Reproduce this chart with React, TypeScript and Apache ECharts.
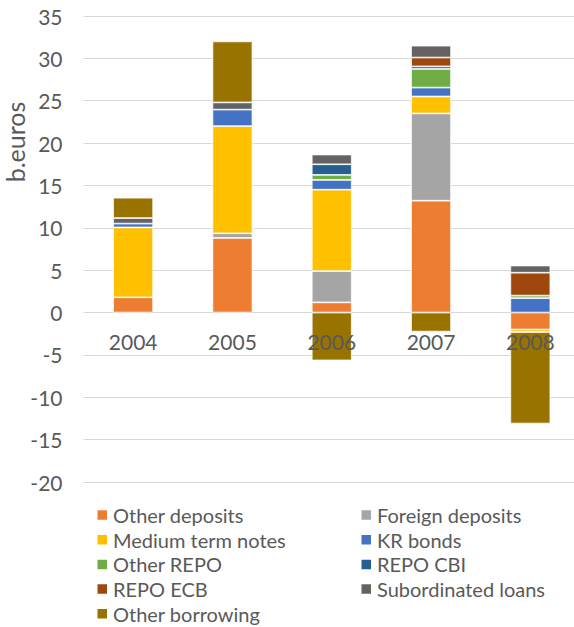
import React, { useEffect, useRef } from "react";
import * as echarts from "echarts";

const years = ["2004", "2005", "2006", "2007", "2008"];
const otherDeposits = [1.8, 8.8, 1.2, 13.2, -2.0];
const foreignDeposits = [null, 0.55, 3.7, 10.3, null];
const mediumTermNotes = [8.25, 12.65, 9.6, 2.0, -0.3];
const krBonds = [0.45, 1.95, 1.15, 1.05, 1.7];
const otherRepo = [null, null, 0.6, 2.2, 0.3];
const repoCBI = [null, null, 1.25, 0.3, null];
const repoECB = [null, null, null, 1.05, 2.7];
const subordinatedLoans = [0.65, 0.85, 1.15, 1.4, 0.85];
const otherBorrowing = [2.4, 7.2, -5.65, -2.25, -10.8];

const seriesDefs = [
  { name: "Other deposits", data: otherDeposits, color: "#ED7D31" },
  { name: "Foreign deposits", data: foreignDeposits, color: "#A5A5A5" },
  { name: "Medium term notes", data: mediumTermNotes, color: "#FFC000" },
  { name: "KR bonds", data: krBonds, color: "#4472C4" },
  { name: "Other REPO", data: otherRepo, color: "#70AD47" },
  { name: "REPO CBI", data: repoCBI, color: "#255E91" },
  { name: "REPO ECB", data: repoECB, color: "#9E480E" },
  { name: "Subordinated loans", data: subordinatedLoans, color: "#636363" },
  { name: "Other borrowing", data: otherBorrowing, color: "#997300" },
];

const leftLegend = ["Other deposits", "Medium term notes", "Other REPO", "REPO ECB", "Other borrowing"];
const rightLegend = ["Foreign deposits", "KR bonds", "REPO CBI", "Subordinated loans"];

const FONT = "Lato, 'Open Sans', sans-serif";
const TEXT = "#595959";

export default function App() {
  const ref = useRef<HTMLDivElement>(null);
  useEffect(() => {
    if (!ref.current) return;
    const chart = echarts.init(ref.current, undefined, { renderer: "svg" });
    const legendCommon = {
      orient: "vertical",
      itemWidth: 11.5,
      itemHeight: 11.5,
      itemGap: 4.7,
      icon: "rect",
      top: 505,
      padding: 0,
      height: 300,
      selectedMode: false,
      textStyle: { color: TEXT, fontSize: 20, fontFamily: FONT, lineHeight: 18 },
    };
    chart.setOption({
      animation: false,
      textStyle: { fontFamily: FONT },
      grid: { left: 83.5, right: 0, top: 16, bottom: 145 },
      legend: [
        { ...legendCommon, left: 95.5, data: leftLegend },
        { ...legendCommon, left: 359.5, data: rightLegend },
      ],
      graphic: [
        {
          type: "text",
          x: 14.5,
          y: 142,
          rotation: Math.PI / 2,
          style: {
            text: "b.euros",
            fill: TEXT,
            fontSize: 25,
            fontFamily: FONT,
            align: "center",
            verticalAlign: "middle",
          },
        },
      ],
      xAxis: {
        type: "category",
        data: years,
        z: 10,
        offset: -169.5,
        axisLine: { show: false },
        axisTick: { show: false },
        axisLabel: { color: TEXT, fontSize: 21, fontFamily: FONT, margin: 18 },
      },
      yAxis: {
        type: "value",
        min: -20,
        max: 35,
        interval: 5,
        axisLine: { show: false },
        axisTick: { show: false },
        splitLine: { lineStyle: { color: "#D9D9D9", width: 1 } },
        axisLabel: { color: TEXT, fontSize: 21, fontFamily: FONT, margin: 21 },
      },
      series: seriesDefs.map((s) => ({
        name: s.name,
        type: "bar",
        stack: "total",
        barWidth: 40,
        data: s.data,
        itemStyle: { color: s.color, borderColor: "#FFFFFF", borderWidth: 0.75 },
      })),
    });
    return () => chart.dispose();
  }, []);
  return (
    <div style={{ position: "absolute", left: 0, top: 0, width: 574, height: 627, overflow: "hidden", background: "#fff" }}>
      <div ref={ref} style={{ width: 580, height: 627 }} />
    </div>
  );
}
